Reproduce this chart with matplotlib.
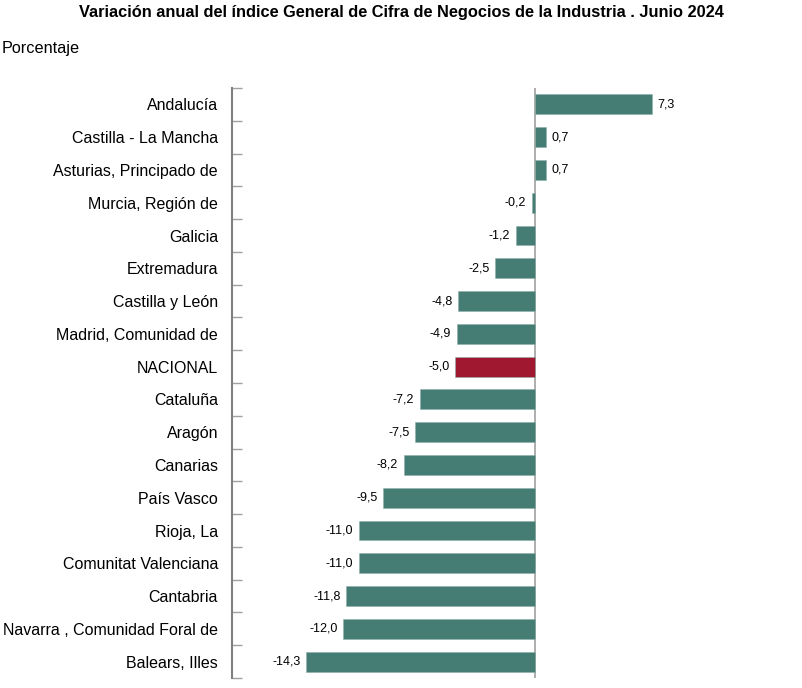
import matplotlib.pyplot as plt
import numpy as np

plt.rcParams['font.family'] = ['Liberation Sans', 'DejaVu Sans']

# Data (top to bottom as in the chart)
regions = [
    'Andalucía', 'Castilla - La Mancha', 'Asturias, Principado de',
    'Murcia, Región de', 'Galicia', 'Extremadura', 'Castilla y León',
    'Madrid, Comunidad de', 'NACIONAL', 'Cataluña', 'Aragón', 'Canarias',
    'País Vasco', 'Rioja, La', 'Comunitat Valenciana', 'Cantabria',
    'Navarra , Comunidad Foral de', 'Balears, Illes',
]
values = [7.3, 0.7, 0.7, -0.2, -1.2, -2.5, -4.8, -4.9, -5.0, -7.2, -7.5,
          -8.2, -9.5, -11.0, -11.0, -11.8, -12.0, -14.3]

teal = '#457C73'
red = '#A01830'
colors = [red if r == 'NACIONAL' else teal for r in regions]

fig = plt.figure(figsize=(8.02, 6.88), dpi=100)
ax = fig.add_axes([232 / 802, 10 / 688, (791 - 232) / 802, 590 / 688])

y = np.arange(len(regions))
ax.barh(y, values, height=0.61, color=colors, edgecolor='#8FB0AA', linewidth=0.4)
ax.set_ylim(len(regions) - 0.5, -0.5)
ax.set_xlim(-18.94, 16)

# zero line
ax.axvline(0, color='#A0A0A0', linewidth=1.2, zorder=0)

for yi, v in zip(y, values):
    txt = f'{v:.1f}'.replace('.', ',')
    if v >= 0:
        ax.text(v + 0.35, yi, txt, va='center', ha='left', fontsize=9)
    else:
        ax.text(v - 0.35, yi, txt, va='center', ha='right', fontsize=9)

for s in ['top', 'right', 'bottom']:
    ax.spines[s].set_visible(False)
ax.spines['left'].set_color('#808080')
ax.spines['left'].set_linewidth(1.5)

ax.set_xticks([])
ax.set_yticks(y)
ax.set_yticklabels(regions, fontsize=11.5)
ax.set_yticks(np.arange(len(regions) + 1) - 0.5, minor=True)
ax.tick_params(axis='y', which='major', length=0, pad=10)
ax.tick_params(axis='y', which='minor', direction='in', length=7,
               width=1, color='#A0A0A0')

fig.text(0.5, 1 - 13 / 688, 'Variación anual del índice General de Cifra de Negocios de la Industria . Junio 2024',
         ha='center', va='center', fontsize=11.8, fontweight='bold')
fig.text(2 / 802, 1 - 48 / 688, 'Porcentaje', ha='left', va='center', fontsize=11.7)

fig.savefig('out.png', dpi=100)
plt.close()
